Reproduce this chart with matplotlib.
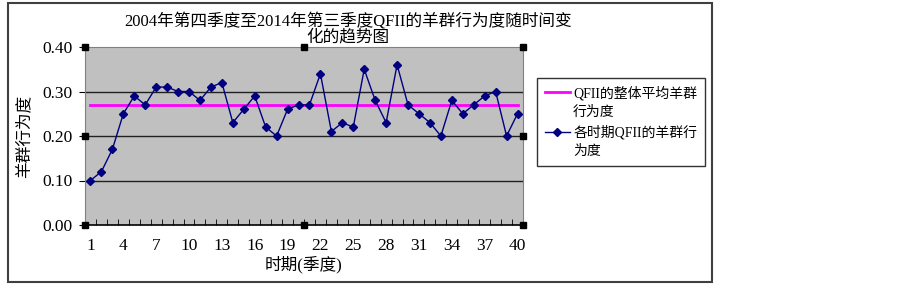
import matplotlib
matplotlib.use('Agg')
from matplotlib import pyplot as plt
from matplotlib.lines import Line2D
from matplotlib.patches import Rectangle

plt.rcParams['font.family'] = ['Liberation Serif', 'Noto Sans CJK SC']

quarters = list(range(1, 41))
herding = [0.10, 0.12, 0.17, 0.25, 0.29, 0.27, 0.31, 0.31, 0.30, 0.30,
           0.28, 0.31, 0.32, 0.23, 0.26, 0.29, 0.22, 0.20, 0.26, 0.27,
           0.27, 0.34, 0.21, 0.23, 0.22, 0.35, 0.28, 0.23, 0.36, 0.27,
           0.25, 0.23, 0.20, 0.28, 0.25, 0.27, 0.29, 0.30, 0.20, 0.25]
mean_level = 0.27
xtick_labels = [1, 4, 7, 10, 13, 16, 19, 22, 25, 28, 31, 34, 37, 40]
yticks = [0.0, 0.1, 0.2, 0.3, 0.4]

title = '2004年第四季度至2014年第三季度QFII的羊群行为度随时间变\n化的趋势图'
# legend labels wrap onto a second row, handle sits on the first row
label_mean = ['QFII的整体平均羊群', '行为度']
label_series = ['各时期QFII的羊群行', '为度']

W, H = 903, 285
fig = plt.figure(figsize=(W / 100, H / 100), dpi=100)

# outer chart frame
fig.patches.append(Rectangle((8 / W, 1 - 282 / H), (712 - 8) / W, (282 - 3) / H,
                             transform=fig.transFigure, fill=False,
                             edgecolor='#404040', lw=1.5))

ax = fig.add_axes([85 / W, 60 / H, (523 - 85) / W, (225 - 47) / H])
ax.set_facecolor('#c0c0c0')

for y in yticks[1:-1]:
    ax.axhline(y, color='#202020', lw=1.0, zorder=1)

ax.plot([quarters[0], quarters[-1]], [mean_level, mean_level], color='#ff00ff', lw=2, zorder=2)
ax.plot(quarters, herding, color='#000080', lw=1, marker='D', ms=4.5, zorder=3)

ax.set_xlim(0.5, 40.5)
ax.set_ylim(0, 0.4)
ax.set_xticks(xtick_labels)
ax.set_xticklabels([str(v) for v in xtick_labels], fontsize=12.5)
ax.set_xticks([q + 0.5 for q in range(0, 41)], minor=True)
ax.tick_params(axis='x', which='major', length=0, pad=9)
ax.tick_params(axis='x', which='minor', length=4, direction='in', color='black')
ax.set_yticks(yticks)
ax.set_yticklabels(['%.2f' % v for v in yticks], fontsize=12.5)
ax.tick_params(axis='y', length=4, direction='out', pad=5)

for s in ['top', 'right', 'left']:
    ax.spines[s].set_color('#808080')
ax.spines['bottom'].set_color('black')
ax.spines['bottom'].set_linewidth(1.2)

# selection handles around the plot area
for hx, hy in [(0, 0), (0, 0.5), (0, 1), (0.5, 0), (0.5, 1), (1, 0), (1, 0.5), (1, 1)]:
    ax.plot(hx, hy, 's', ms=5, color='black', transform=ax.transAxes,
            clip_on=False, zorder=5)

ax.set_xlabel('时期(季度)', fontsize=12, labelpad=2)
ax.set_ylabel('羊群行为度', fontsize=12, labelpad=7)

fig.text(348 / W, 1 - 13 / H, title, ha='center', va='top', fontsize=12,
         linespacing=0.95)

blank = Line2D([], [], color='none')
handles = [Line2D([], [], color='#ff00ff', lw=2), blank,
           Line2D([], [], color='#000080', lw=1, marker='D', ms=4.5), blank]
labels = label_mean + label_series
leg = fig.legend(handles, labels, loc='upper left',
                 bbox_to_anchor=(537 / W, 1 - 78 / H), borderaxespad=0,
                 fontsize=10, frameon=True, fancybox=False, handlelength=1.8,
                 handletextpad=0.25, borderpad=0.55, labelspacing=0.42)
leg.get_frame().set_edgecolor('black')
leg.get_frame().set_linewidth(1.0)

fig.savefig('out.png', dpi=100)
